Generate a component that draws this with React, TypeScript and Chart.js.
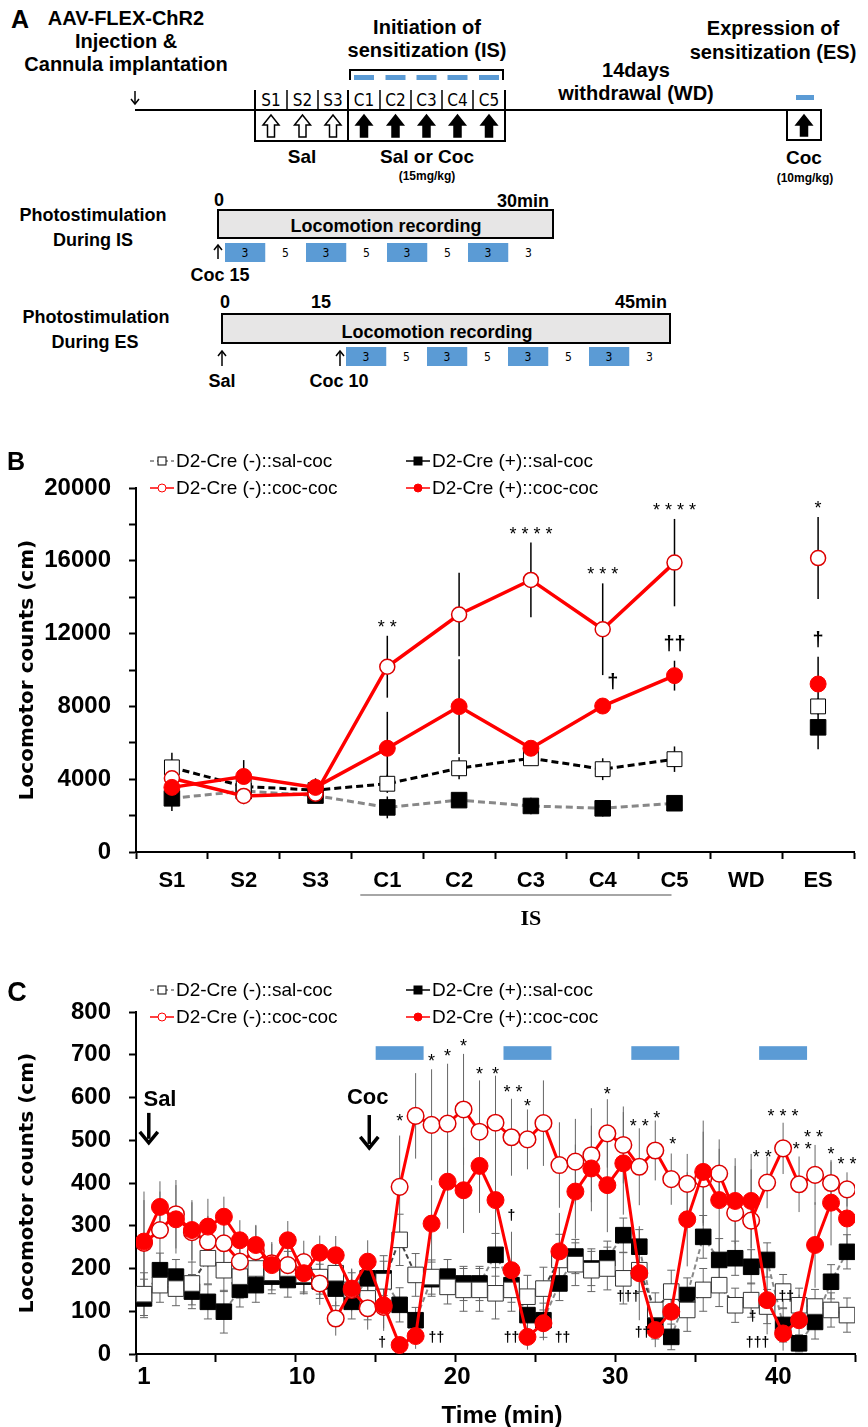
import React, { useEffect, useRef } from 'react';
import { Chart, registerables } from 'chart.js';
Chart.register(...registerables);

const SANS = '"Liberation Sans", Arial, Helvetica, sans-serif';
const NARROW = '"Liberation Sans Narrow", "DejaVu Sans Condensed", "Liberation Sans", sans-serif';
const ROUND = '"DejaVu Sans", "Liberation Sans", sans-serif';
const SERIF = '"Liberation Serif", "DejaVu Serif", serif';
const RED = '#ff0000';
const BLUE = '#5b9bd5';

// ---------------- Panel B data ----------------
const B_CATEGORIES = ['S1', 'S2', 'S3', 'C1', 'C2', 'C3', 'C4', 'C5', 'WD', 'ES'];
const B_NEG_SAL = [4650, 3600, 3400, 3750, 4600, 5150, 4550, 5100, null, 8000];
const B_NEG_SAL_ERR = [800, 500, 400, 500, 600, 400, 600, 700, null, 450];
const B_POS_SAL = [2950, 3350, 3100, 2450, 2850, 2530, 2400, 2680, null, 6850];
const B_POS_SAL_ERR = [700, 400, 400, 600, 350, 450, 450, 400, null, 1200];
const B_NEG_COC = [4050, 3080, 3200, 10180, 13050, 14950, 12240, 15900, null, 16150];
const B_NEG_COC_ERR = [900, 450, 350, 1700, 2300, 2050, 2520, 2400, null, 2250];
const B_POS_COC = [3550, 4150, 3550, 5700, 7990, 5700, 8020, 9690, null, 9230];
const B_POS_COC_ERR = [600, 900, 500, 2000, 2600, 300, 400, 820, null, 1500];
const B_Y_TICKS = [0, 4000, 8000, 12000, 16000, 20000];
const B_STAR_IDX = [3, 5, 6, 7, 9];
const B_STAR_TXT = ['* *', '* * * *', '* * *', '* * * *', '*'];
const B_DAG_IDX = [6, 7, 9];
const B_DAG_TXT = ['†', '††', '†'];

// ---------------- Panel C data ----------------
const C_MINUTES = [1, 2, 3, 4, 5, 6, 7, 8, 9, 10, 11, 12, 13, 14, 15, 16, 17, 18, 19, 20, 21, 22, 23, 24, 25, 26, 27, 28, 29, 30, 31, 32, 33, 34, 35, 36, 37, 38, 39, 40, 41, 42, 43, 44, 45];
const C_POS_COC = [263, 344, 315, 290, 298, 321, 266, 255, 208, 266, 189, 237, 231, 153, 216, 114, 21, 42, 305, 403, 383, 440, 360, 196, 40, 72, 240, 380, 434, 395, 446, 189, 56, 99, 315, 426, 360, 358, 358, 126, 48, 79, 255, 354, 317];
const C_POS_COC_ERR = [117, 60, 80, 70, 65, 47, 47, 47, 50, 45, 50, 40, 45, 45, 50, 60, 20, 30, 90, 110, 100, 110, 110, 90, 30, 40, 90, 110, 100, 110, 120, 110, 40, 60, 110, 120, 120, 100, 110, 80, 40, 60, 100, 100, 80];
const C_NEG_COC = [260, 290, 327, 285, 263, 259, 216, 240, 212, 208, 215, 165, 83, 150, 107, 110, 391, 557, 536, 539, 572, 520, 541, 507, 502, 540, 442, 450, 465, 516, 489, 438, 476, 409, 398, 410, 422, 330, 312, 401, 481, 397, 419, 400, 385];
const C_NEG_COC_ERR = [100, 90, 80, 70, 60, 60, 60, 60, 50, 50, 50, 50, 40, 50, 50, 50, 120, 100, 130, 140, 130, 120, 110, 90, 70, 100, 100, 100, 110, 80, 90, 90, 70, 60, 70, 110, 80, 110, 120, 60, 60, 65, 70, 50, 40];
const C_NEG_SAL = [140, 161, 153, 165, 224, 196, 181, 200, 190, 200, 185, 180, 189, 150, 130, 170, 267, 185, 180, 157, 150, 150, 142, 150, 134, 153, 220, 210, 196, 200, 177, 196, 103, 146, 103, 150, 161, 114, 126, 111, 146, 114, 111, 103, 91];
const C_NEG_SAL_ERR = [50, 40, 40, 50, 60, 50, 50, 50, 40, 40, 40, 40, 40, 40, 50, 60, 60, 50, 40, 40, 50, 50, 60, 50, 50, 50, 60, 50, 50, 50, 60, 50, 40, 50, 50, 50, 50, 40, 40, 40, 40, 40, 40, 40, 40];
const C_POS_SAL = [130, 196, 181, 146, 122, 99, 150, 161, 181, 173, 181, 170, 153, 122, 177, 177, 115, 79, 175, 181, 165, 165, 232, 161, 91, 79, 165, 228, 200, 224, 278, 251, 75, 40, 138, 274, 220, 224, 204, 220, 68, 25, 75, 169, 239];
const C_POS_SAL_ERR = [45, 40, 40, 40, 40, 50, 40, 40, 40, 40, 40, 40, 40, 40, 40, 40, 40, 30, 40, 40, 40, 40, 50, 40, 40, 40, 40, 40, 40, 40, 40, 40, 40, 30, 40, 50, 50, 40, 40, 40, 40, 20, 40, 40, 40];
const C_TICK_POS = [1, 10.9, 20.6, 30.5, 40.7];
const C_TICK_LABELS = ['1', '10', '20', '30', '40'];
const C_BOUNDARY_TICKS = [0.5, 5.5, 10.5, 15.5, 20.5, 25.5, 30.5, 35.5, 40.5, 45.5];
const C_STIM_START = [15.5, 23.5, 31.5, 39.5];
const C_STIM_LEN = 3;
const C_STIM_Y = [688, 720];
// annotations in data units: [minute, value, text]
const C_STARS: [number, number, string][] = [
  [17, 543, '*'], [19, 683, '*'], [20, 695, '*'], [21, 718, '*'], [22, 653, '*'], [23, 653, '*'],
  [24.1, 610, '* *'], [25, 578, '*'], [30, 606, '*'], [32, 531, '* *'], [33.1, 550, '*'], [34.1, 489, '*'],
  [39.7, 458, '* *'], [41, 554, '* * *'], [42.2, 476, '* *'], [42.9, 505, '* *'], [44, 465, '*'], [45, 442, '* *'],
];
const C_DAGGERS: [number, number, string][] = [
  [15.9, 26, '†'], [19.3, 37, '††'], [24.0, 323, '†'], [24.0, 37, '††'], [27.2, 37, '††'],
  [31.3, 133, '†††'], [32.2, 49, '††'], [39.1, 87, '†'], [39.4, 26, '†††'], [41.2, 133, '††'],
];
// injection markers: [label, textMinute, textValue, arrowMinute, arrowTopValue, arrowBottomValue]
const C_EVENTS: [string, number, number, number, number, number][] = [
  ['Sal', 2.0, 594, 1.3, 564, 494],
  ['Coc', 15.0, 599, 15.1, 559, 482],
];

function txt(ctx: any, s: string, x: number, y: number, font: string, align: any = 'center', color = '#000') {
  ctx.font = font;
  ctx.textAlign = align;
  ctx.textBaseline = 'middle';
  ctx.fillStyle = color;
  ctx.fillText(s, x, y);
}

const errorBars = {
  id: 'errorBars',
  beforeDatasetsDraw(chart: any) {
    const ctx = chart.ctx;
    const ys = chart.scales.y;
    chart.data.datasets.forEach((ds: any, i: number) => {
      if (!ds.errors) return;
      const meta = chart.getDatasetMeta(i);
      ctx.save();
      ctx.strokeStyle = ds.errColor || '#000';
      ctx.lineWidth = ds.errWidth || 1;
      meta.data.forEach((pt: any, j: number) => {
        const v = ds.data[j];
        const e = ds.errors[j];
        if (v == null || e == null) return;
        const x = pt.x;
        const yt = ys.getPixelForValue(v + e);
        const yb = ys.getPixelForValue(Math.max(0, v - e));
        ctx.beginPath();
        ctx.moveTo(x, yt);
        ctx.lineTo(x, yb);
        if (ds.errCap) {
          ctx.moveTo(x - ds.errCap, yt);
          ctx.lineTo(x + ds.errCap, yt);
          ctx.moveTo(x - ds.errCap, yb);
          ctx.lineTo(x + ds.errCap, yb);
        }
        ctx.stroke();
      });
      ctx.restore();
    });
  },
};

function legendItem(ctx: any, cx: number, cy: number, kind: string, lineColor: string, dashed: boolean, label: string) {
  ctx.save();
  ctx.strokeStyle = lineColor;
  ctx.lineWidth = 1.5;
  if (dashed) ctx.setLineDash([4, 3]);
  ctx.beginPath();
  ctx.moveTo(cx - 12, cy);
  ctx.lineTo(cx + 12, cy);
  ctx.stroke();
  ctx.setLineDash([]);
  ctx.lineWidth = 1;
  if (kind === 'openSq' || kind === 'fillSq') {
    ctx.fillStyle = kind === 'fillSq' ? '#000' : '#fff';
    ctx.strokeStyle = '#000';
    ctx.fillRect(cx - 4, cy - 4, 8, 8);
    ctx.strokeRect(cx - 4, cy - 4, 8, 8);
  } else {
    ctx.fillStyle = kind === 'fillCirc' ? RED : '#fff';
    ctx.strokeStyle = RED;
    ctx.beginPath();
    ctx.arc(cx, cy, 4, 0, Math.PI * 2);
    ctx.fill();
    ctx.stroke();
  }
  txt(ctx, label, cx + 14, cy + 1, `19px ${SANS}`, 'left');
  ctx.restore();
}

function drawLegend(ctx: any, row1: number, row2: number) {
  legendItem(ctx, 162, row1, 'openSq', '#777', true, 'D2-Cre (-)::sal-coc');
  legendItem(ctx, 418, row1, 'fillSq', '#000', false, 'D2-Cre (+)::sal-coc');
  legendItem(ctx, 162, row2, 'openCirc', RED, false, 'D2-Cre (-)::coc-coc');
  legendItem(ctx, 418, row2, 'fillCirc', RED, false, 'D2-Cre (+)::coc-coc');
}

function yTitle(ctx: any, ca: any) {
  ctx.save();
  ctx.translate(28, (ca.top + ca.bottom) / 2);
  ctx.rotate(-Math.PI / 2);
  txt(ctx, 'Locomotor counts (cm)', 0, 0, `bold 20px ${ROUND}`);
  ctx.restore();
}

const bDecor = {
  id: 'bDecor',
  afterDraw(chart: any) {
    const { ctx, chartArea: ca, scales } = chart;
    const x = scales.x;
    const y = scales.y;
    ctx.save();
    txt(ctx, 'B', 16, ca.top - 25, `bold 25px ${SANS}`);
    yTitle(ctx, ca);
    drawLegend(ctx, ca.top - 27, ca.top);
    B_STAR_IDX.forEach((idx, k) => {
      const top = y.getPixelForValue((B_NEG_COC[idx] as number) + (B_NEG_COC_ERR[idx] as number));
      txt(ctx, B_STAR_TXT[k], x.getPixelForValue(idx), top - 8, `18px ${SANS}`);
    });
    B_DAG_IDX.forEach((idx, k) => {
      const top = y.getPixelForValue((B_POS_COC[idx] as number) + (B_POS_COC_ERR[idx] as number));
      txt(ctx, B_DAG_TXT[k], x.getPixelForValue(idx) + (idx === 6 ? 10 : 0), top - 16, `bold 20px ${SANS}`);
    });
    // IS bracket under C1..C5
    const l = x.getPixelForValue(3) - 27;
    const r = x.getPixelForValue(7) - 3;
    ctx.strokeStyle = '#888';
    ctx.lineWidth = 1.5;
    ctx.beginPath();
    ctx.moveTo(l, ca.bottom + 43);
    ctx.lineTo(r, ca.bottom + 43);
    ctx.stroke();
    txt(ctx, 'IS', x.getPixelForValue(5), ca.bottom + 67, `bold 22px ${SERIF}`);
    ctx.restore();
  },
};

const cDecor = {
  id: 'cDecor',
  beforeDatasetsDraw(chart: any) {
    const { ctx, scales } = chart;
    const x = scales.x;
    const y = scales.y;
    ctx.save();
    ctx.fillStyle = BLUE;
    C_STIM_START.forEach((s) => {
      const x0 = x.getPixelForValue(s);
      const x1 = x.getPixelForValue(s + C_STIM_LEN);
      const y0 = y.getPixelForValue(C_STIM_Y[1]);
      const y1 = y.getPixelForValue(C_STIM_Y[0]);
      ctx.fillRect(x0, y0, x1 - x0, y1 - y0);
    });
    ctx.restore();
  },
  afterDraw(chart: any) {
    const { ctx, chartArea: ca, scales } = chart;
    const x = scales.x;
    const y = scales.y;
    ctx.save();
    txt(ctx, 'C', 17, ca.top - 18, `bold 27px ${SANS}`);
    yTitle(ctx, ca);
    drawLegend(ctx, ca.top - 22, ca.top + 5);
    C_EVENTS.forEach(([label, tx, tv, ax, at, ab]) => {
      txt(ctx, label, x.getPixelForValue(tx), y.getPixelForValue(tv), `bold 22px ${SANS}`);
      const px = x.getPixelForValue(ax);
      const py0 = y.getPixelForValue(at);
      const py1 = y.getPixelForValue(ab);
      ctx.strokeStyle = '#000';
      ctx.lineWidth = 3.5;
      ctx.beginPath();
      ctx.moveTo(px, py0);
      ctx.lineTo(px, py1 - 4);
      ctx.stroke();
      ctx.lineWidth = 3.5;
      ctx.lineJoin = 'miter';
      ctx.beginPath();
      ctx.moveTo(px - 9, py1 - 11);
      ctx.lineTo(px, py1);
      ctx.lineTo(px + 9, py1 - 11);
      ctx.stroke();
    });
    C_STARS.forEach(([m, v, s]) => txt(ctx, s, x.getPixelForValue(m), y.getPixelForValue(v), `18px ${SANS}`));
    C_DAGGERS.forEach(([m, v, s]) => txt(ctx, s, x.getPixelForValue(m), y.getPixelForValue(v), `bold 14px ${SANS}`));
    txt(ctx, 'Time (min)', 502, ca.bottom + 62, `bold 24px ${SANS}`);
    ctx.restore();
  },
};

const axisGrid = { drawOnChartArea: false, tickLength: 7, tickColor: '#000', tickWidth: 2 };
const axisBorder = { color: '#000', width: 2 };

function makeB(canvas: HTMLCanvasElement) {
  return new Chart(canvas, {
    type: 'line',
    data: {
      labels: B_CATEGORIES,
      datasets: [
        { label: 'D2-Cre (+)::coc-coc', data: B_POS_COC, errors: B_POS_COC_ERR, errColor: '#000', errWidth: 1.5, borderColor: RED, borderWidth: 3.5, pointStyle: 'circle', pointRadius: 8, pointBackgroundColor: RED, pointBorderColor: RED, pointBorderWidth: 1 },
        { label: 'D2-Cre (-)::coc-coc', data: B_NEG_COC, errors: B_NEG_COC_ERR, errColor: '#000', errWidth: 1.5, borderColor: RED, borderWidth: 3.5, pointStyle: 'circle', pointRadius: 7.5, pointBackgroundColor: '#fff', pointBorderColor: '#d00', pointBorderWidth: 1.5 },
        { label: 'D2-Cre (-)::sal-coc', data: B_NEG_SAL, errors: B_NEG_SAL_ERR, errColor: '#000', errWidth: 1.5, borderColor: '#000', borderDash: [7, 4], borderWidth: 3, pointStyle: 'rect', pointRadius: 10.5, pointBackgroundColor: '#fff', pointBorderColor: '#000', pointBorderWidth: 1 },
        { label: 'D2-Cre (+)::sal-coc', data: B_POS_SAL, errors: B_POS_SAL_ERR, errColor: '#000', errWidth: 1.5, borderColor: '#888', borderDash: [7, 4], borderWidth: 3, pointStyle: 'rect', pointRadius: 11, pointBackgroundColor: '#000', pointBorderColor: '#000', pointBorderWidth: 1 },
      ] as any,
    },
    options: {
      animation: false,
      responsive: false,
      devicePixelRatio: 1,
      layout: { padding: { top: 48, right: 14, left: 0, bottom: 0 } },
      plugins: { legend: { display: false }, tooltip: { enabled: false } },
      elements: { line: { tension: 0 } },
      scales: {
        x: {
          type: 'category', offset: true,
          grid: { ...axisGrid, offset: true },
          border: axisBorder,
          ticks: { color: '#000', font: { family: SANS, size: 22, weight: 'bold' }, padding: 9, autoSkip: false, maxRotation: 0 },
          afterFit: (s: any) => { s.height = 78; },
        },
        y: {
          min: 0, max: 20000,
          grid: axisGrid,
          border: axisBorder,
          ticks: { stepSize: 2000, color: '#000', font: { family: SANS, size: 24, weight: 'bold' }, padding: 18, callback: (v: any) => (B_Y_TICKS.includes(v) ? String(v) : '') },
          afterFit: (s: any) => { s.width = 136; },
        },
      },
    } as any,
    plugins: [errorBars, bDecor],
  });
}

function makeC(canvas: HTMLCanvasElement) {
  return new Chart(canvas, {
    type: 'line',
    data: {
      labels: C_MINUTES,
      datasets: [
        { label: 'D2-Cre (+)::coc-coc', data: C_POS_COC, errors: C_POS_COC_ERR, errColor: '#666', errWidth: 1, borderColor: RED, borderWidth: 3, pointStyle: 'circle', pointRadius: 8.5, pointBackgroundColor: RED, pointBorderColor: RED, pointBorderWidth: 1 },
        { label: 'D2-Cre (-)::coc-coc', data: C_NEG_COC, errors: C_NEG_COC_ERR, errColor: '#666', errWidth: 1, borderColor: RED, borderWidth: 3, pointStyle: 'circle', pointRadius: 8.3, pointBackgroundColor: '#fff', pointBorderColor: '#d00', pointBorderWidth: 1.5 },
        { label: 'D2-Cre (-)::sal-coc', data: C_NEG_SAL, errors: C_NEG_SAL_ERR, errColor: '#666', errWidth: 1, errCap: 4, borderColor: '#444', borderDash: [5, 3], borderWidth: 2, pointStyle: 'rect', pointRadius: 11, pointBackgroundColor: '#fff', pointBorderColor: '#333', pointBorderWidth: 1 },
        { label: 'D2-Cre (+)::sal-coc', data: C_POS_SAL, errors: C_POS_SAL_ERR, errColor: '#666', errWidth: 1, errCap: 4, borderColor: '#888', borderDash: [5, 3], borderWidth: 2, pointStyle: 'rect', pointRadius: 11, pointBackgroundColor: '#000', pointBorderColor: '#000', pointBorderWidth: 1 },
      ] as any,
    },
    options: {
      animation: false,
      responsive: false,
      devicePixelRatio: 1,
      layout: { padding: { top: 52, right: 13, left: 0, bottom: 0 } },
      plugins: { legend: { display: false }, tooltip: { enabled: false } },
      elements: { line: { tension: 0 } },
      scales: {
        x: {
          type: 'linear', min: 0.5, max: 45.5, position: 'bottom',
          grid: { ...axisGrid, tickLength: 8 },
          border: axisBorder,
          ticks: { display: false },
          afterBuildTicks: (s: any) => { s.ticks = C_BOUNDARY_TICKS.map((v) => ({ value: v })); },
          afterFit: (s: any) => { s.height = 8; },
        },
        xl: {
          type: 'linear', min: 0.5, max: 45.5, position: 'bottom',
          grid: { display: false },
          border: { display: false },
          ticks: { color: '#000', font: { family: SANS, size: 24, weight: 'bold' }, padding: -7, autoSkip: false, maxRotation: 0, callback: (_v: any, i: number) => C_TICK_LABELS[i] },
          afterBuildTicks: (s: any) => { s.ticks = C_TICK_POS.map((v) => ({ value: v })); },
          afterFit: (s: any) => { s.height = 65; },
        },
        y: {
          min: 0, max: 800,
          grid: axisGrid,
          border: axisBorder,
          ticks: { stepSize: 100, color: '#000', font: { family: SANS, size: 24, weight: 'bold' }, padding: 18 },
          afterFit: (s: any) => { s.width = 136; },
        },
      },
    } as any,
    plugins: [errorBars, cDecor],
  });
}

// ---------------- Panel A (schematic) ----------------
function T(props: any) {
  const { x, y, size = 20, w = 'bold', f = SANS, a = 'center', children } = props;
  const tr = a === 'center' ? 'translate(-50%,-50%)' : a === 'right' ? 'translate(-100%,-50%)' : 'translate(0,-50%)';
  return (
    <div style={{ position: 'absolute', left: x, top: y, transform: tr, fontSize: size, fontWeight: w, fontFamily: f, whiteSpace: 'nowrap', lineHeight: 1, color: '#000' }}>{children}</div>
  );
}

function BlockArrow({ cx, y0, y1, filled }: any) {
  const d = `M${cx},${y0} L${cx + 8},${y0 + 10} L${cx + 3.5},${y0 + 10} L${cx + 3.5},${y1} L${cx - 3.5},${y1} L${cx - 3.5},${y0 + 10} L${cx - 8},${y0 + 10} Z`;
  return <path d={d} fill={filled ? '#000' : '#fff'} stroke="#000" strokeWidth={1.5} />;
}

function ThinArrow({ x, y0, y1, up }: any) {
  const tip = up ? y0 : y1;
  const s = up ? 1 : -1;
  return (
    <g stroke="#000" strokeWidth={1.5} fill="none">
      <line x1={x} y1={y0} x2={x} y2={y1} />
      <polyline points={`${x - 4},${tip + 5 * s} ${x},${tip} ${x + 4},${tip + 5 * s}`} />
    </g>
  );
}

const A_S_LABELS = ['S1', 'S2', 'S3'];
const A_C_LABELS = ['C1', 'C2', 'C3', 'C4', 'C5'];
const A_S_CENTERS = [271, 302.5, 333];
const A_C_CENTERS = [364, 395.5, 426.5, 457.5, 489];
const A_SEPARATORS = [287, 318, 380, 411, 442, 473];
const A_CELLS = ['3', '5', '3', '5', '3', '5', '3', '3'];

function Cells({ x0, y0 }: any) {
  return (
    <>
      {A_CELLS.map((c, i) => (
        <rect key={i} x={x0 + i * 40.5} y={y0} width={40.5} height={19} fill={i % 2 === 0 ? BLUE : '#fff'} />
      ))}
    </>
  );
}

function CellText({ x0, y0 }: any) {
  return (
    <>
      {A_CELLS.map((c, i) => (
        <T key={i} x={x0 + i * 40.5 + 20} y={y0 + 10} size={12} w="normal" f={NARROW}>{c}</T>
      ))}
    </>
  );
}

function PanelA() {
  return (
    <>
      <svg width={868} height={400} style={{ position: 'absolute', left: 0, top: 0 }}>
        <line x1={135} y1={110} x2={821} y2={110} stroke="#000" strokeWidth={2} />
        <ThinArrow x={135} y0={91} y1={104} up={false} />
        <g stroke="#000" strokeWidth={2} fill="none">
          <line x1={255} y1={90} x2={255} y2={142} />
          <line x1={348} y1={90} x2={348} y2={142} />
          <line x1={505} y1={90} x2={505} y2={142} />
          <line x1={254} y1={141} x2={506} y2={141} />
          <polyline points="350,80 350,70 503,70 503,80" />
          <rect x={787} y={110} width={34} height={30} />
        </g>
        {A_SEPARATORS.map((s) => (
          <line key={s} x1={s} y1={90} x2={s} y2={110} stroke="#000" strokeWidth={1.5} />
        ))}
        {A_S_CENTERS.map((c) => <BlockArrow key={c} cx={c} y0={115} y1={137} filled={false} />)}
        {A_C_CENTERS.map((c) => <BlockArrow key={c} cx={c} y0={115} y1={137} filled={true} />)}
        {A_C_CENTERS.map((c) => <rect key={c} x={c - 10} y={75} width={20} height={5} fill={BLUE} />)}
        <BlockArrow cx={804} y0={115} y1={136} filled={true} />
        <rect x={796} y={95} width={18} height={5} fill={BLUE} />
        <rect x={218} y={210} width={335} height={28} fill="#e7e6e6" stroke="#000" strokeWidth={2} />
        <ThinArrow x={218} y0={245} y1={259} up={true} />
        <Cells x0={225} y0={243} />
        <rect x={222} y={314} width={448} height={29} fill="#e7e6e6" stroke="#000" strokeWidth={2} />
        <ThinArrow x={222} y0={351} y1={366} up={true} />
        <ThinArrow x={340} y0={351} y1={366} up={true} />
        <Cells x0={346} y0={347} />
      </svg>
      <T x={20} y={19} size={25}>A</T>
      <T x={126} y={18}>AAV-FLEX-ChR2</T>
      <T x={126} y={41}>Injection &amp;</T>
      <T x={126} y={64}>Cannula implantation</T>
      <T x={427} y={27}>Initiation of</T>
      <T x={427} y={50}>sensitization (IS)</T>
      <T x={636} y={70}>14days</T>
      <T x={636} y={93}>withdrawal (WD)</T>
      <T x={773} y={28}>Expression of</T>
      <T x={773} y={52}>sensitization (ES)</T>
      {A_S_LABELS.map((l, i) => <T key={l} x={A_S_CENTERS[i]} y={100} size={17} w="normal" f={NARROW}>{l}</T>)}
      {A_C_LABELS.map((l, i) => <T key={l} x={A_C_CENTERS[i]} y={100} size={17} w="normal" f={NARROW}>{l}</T>)}
      <T x={302} y={156} size={19}>Sal</T>
      <T x={427} y={156} size={19}>Sal or Coc</T>
      <T x={427} y={176} size={12}>(15mg/kg)</T>
      <T x={804} y={157} size={19}>Coc</T>
      <T x={805} y={178} size={12}>(10mg/kg)</T>

      <T x={93} y={215} size={18}>Photostimulation</T>
      <T x={93} y={240} size={18}>During IS</T>
      <T x={219} y={200} size={18}>0</T>
      <T x={549} y={201} size={18} a="right">30min</T>
      <T x={386} y={226} size={18}>Locomotion recording</T>
      <CellText x0={225} y0={243} />
      <T x={220} y={275} size={18}>Coc 15</T>

      <T x={96} y={317} size={18}>Photostimulation</T>
      <T x={95} y={342} size={18}>During ES</T>
      <T x={225} y={302} size={18}>0</T>
      <T x={321} y={302} size={18}>15</T>
      <T x={667} y={302} size={18} a="right">45min</T>
      <T x={437} y={332} size={18}>Locomotion recording</T>
      <CellText x0={346} y0={347} />
      <T x={222} y={381} size={18}>Sal</T>
      <T x={339} y={381} size={18}>Coc 10</T>
    </>
  );
}

export default function App() {
  const bRef = useRef<HTMLCanvasElement>(null);
  const cRef = useRef<HTMLCanvasElement>(null);
  useEffect(() => {
    const b = makeB(bRef.current as HTMLCanvasElement);
    const c = makeC(cRef.current as HTMLCanvasElement);
    return () => {
      b.destroy();
      c.destroy();
    };
  }, []);
  return (
    <div style={{ position: 'absolute', left: 0, top: 0, width: 868, height: 1427, background: '#fff', overflow: 'hidden' }}>
      <PanelA />
      <canvas ref={bRef} width={868} height={490} style={{ position: 'absolute', left: 0, top: 440, width: 868, height: 490 }} />
      <canvas ref={cRef} width={868} height={467} style={{ position: 'absolute', left: 0, top: 960, width: 868, height: 467 }} />
    </div>
  );
}
